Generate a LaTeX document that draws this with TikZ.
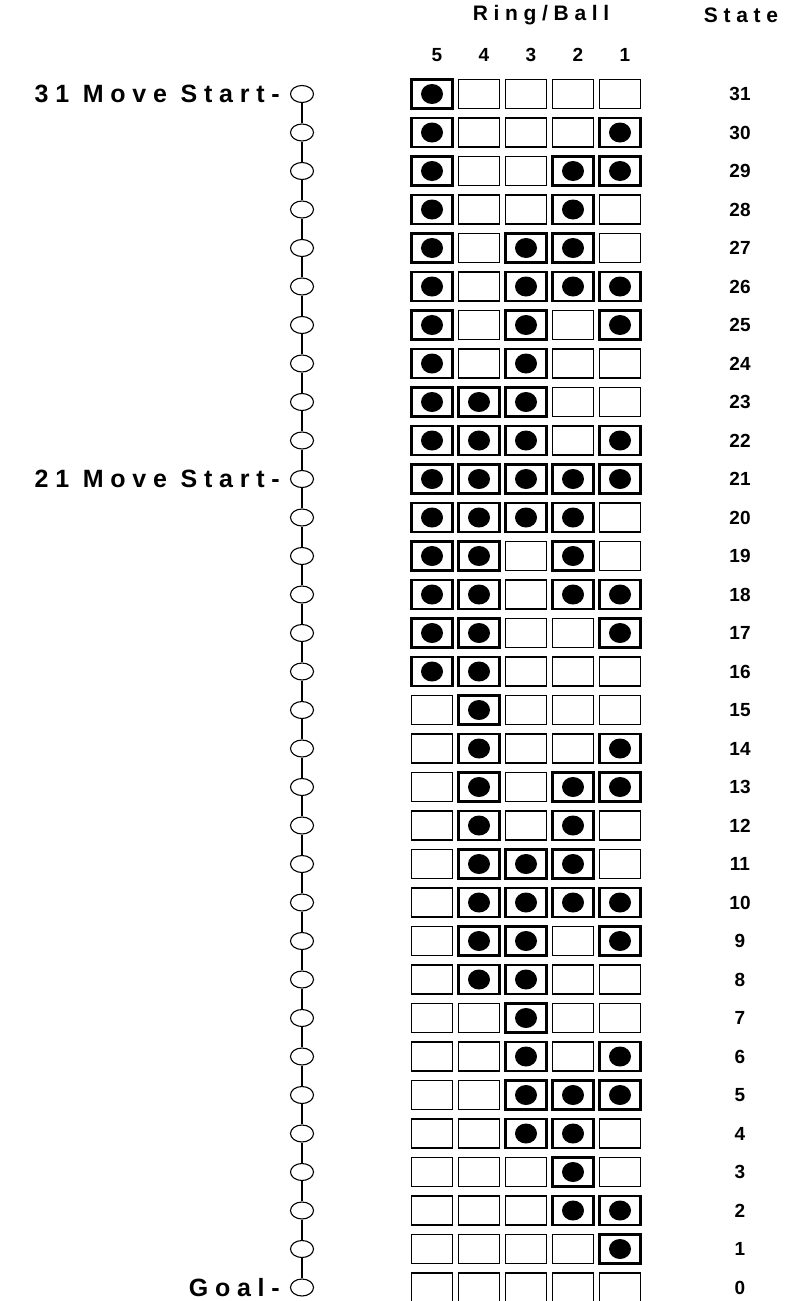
\documentclass[tikz,border=0pt]{standalone}
\usepackage{fontspec}
\setmainfont{Liberation Sans}
\newfontfamily\widefont[LetterSpace=27]{Liberation Sans}
\usetikzlibrary{positioning,shapes.geometric}
\tikzset{
  cell/.style={draw,line width=1.3pt,minimum width=41pt,minimum height=29pt,inner sep=0pt},
  fullcell/.style={cell,line width=2.2pt},
  link/.style={draw,ellipse,line width=1.1pt,minimum width=23pt,minimum height=17pt,inner sep=0pt},
  stem/.style={line width=1.1pt},
  head/.style={font=\widefont\bfseries\fontsize{21}{23}\selectfont},
  colnum/.style={font=\bfseries\fontsize{19}{21}\selectfont},
  statenum/.style={font=\bfseries\fontsize{19}{21}\selectfont},
  tag/.style={font=\widefont\bfseries\fontsize{25}{27}\selectfont,inner sep=0pt},
}
\begin{document}
\begin{tikzpicture}[x=1pt,y=-1pt]
\useasboundingbox (0,0) rectangle (785,1301);
% headings
\node[head] (ring)  at (541,15) {Ring/Ball};
\node[head] (state) at (741,15) {State};
\foreach \k [count=\i from 0] in {5,4,3,2,1}
  \node[colnum] (k\k) at (437+47*\i,55) {\k};
% one row per state: rings 5 4 3 2 1
\foreach \n/\a/\b/\c/\d/\e in {
  31/1/0/0/0/0, 30/1/0/0/0/1, 29/1/0/0/1/1, 28/1/0/0/1/0,
  27/1/0/1/1/0, 26/1/0/1/1/1, 25/1/0/1/0/1, 24/1/0/1/0/0,
  23/1/1/1/0/0, 22/1/1/1/0/1, 21/1/1/1/1/1, 20/1/1/1/1/0,
  19/1/1/0/1/0, 18/1/1/0/1/1, 17/1/1/0/0/1, 16/1/1/0/0/0,
  15/0/1/0/0/0, 14/0/1/0/0/1, 13/0/1/0/1/1, 12/0/1/0/1/0,
  11/0/1/1/1/0, 10/0/1/1/1/1,  9/0/1/1/0/1,  8/0/1/1/0/0,
   7/0/0/1/0/0,  6/0/0/1/0/1,  5/0/0/1/1/1,  4/0/0/1/1/0,
   3/0/0/0/1/0,  2/0/0/0/1/1,  1/0/0/0/0/1,  0/0/0/0/0/0}{
  \pgfmathsetmacro\y{94+(31-\n)*38.5}
  \node[link] (c\n) at (302,\y) {};
  \foreach \v [count=\i from 0] in {\a,\b,\c,\d,\e}{
    \ifnum\v=1
      \node[fullcell] (r\n-\i) at (432+47*\i,\y) {};
      \fill (r\n-\i.center) ellipse (11pt and 10pt);
    \else
      \node[cell] (r\n-\i) at (432+47*\i,\y) {};
    \fi
  }
  \node[statenum] (s\n) at (740,\y) {\n};
}
% the chain
\foreach \n [evaluate=\n as \m using int(\n-1)] in {31,...,1}
  \draw[stem] (c\n) -- (c\m);
\node[tag,left=10pt of c31] (l31) {31 Move Start-};
\node[tag,left=10pt of c21] (l21) {21 Move Start-};
\node[tag,left=10pt of c0]  (l0)  {Goal-};
\end{tikzpicture}
\end{document}
